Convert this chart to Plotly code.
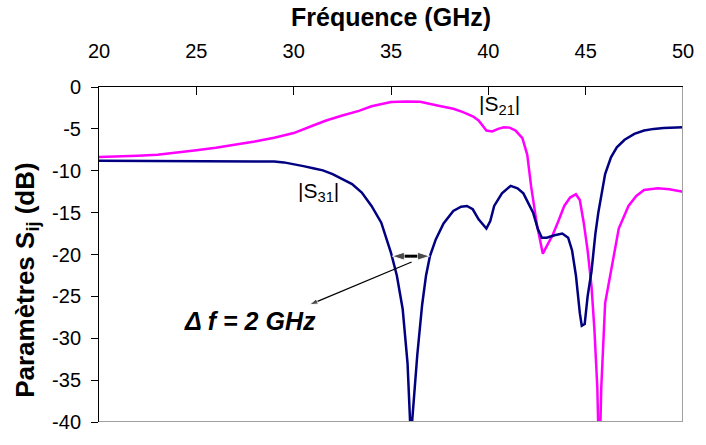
import plotly.graph_objects as go

# Frequency (GHz) and S-parameters (dB)
f_s31 = [20, 25, 29, 29.5, 30, 30.5, 31, 31.5, 32, 32.5, 33, 33.5, 34, 34.5, 35, 35.3, 35.6, 35.85,
         36.0, 36.05, 36.2, 36.35, 36.6, 36.8, 37.0, 37.3, 37.7, 38.2, 38.6, 38.9, 39.2, 39.5, 39.9,
         40.1, 40.3, 40.7, 41.15, 41.5, 41.8, 42.1, 42.3, 42.55, 42.75, 43.0, 43.4, 43.8, 44.1, 44.3,
         44.5, 44.7, 44.8, 44.95, 45.1, 45.3, 45.5, 45.65, 45.85, 46.0, 46.3, 46.6, 47.0, 47.5, 48,
         48.5, 49, 50]
s31 = [-8.8, -8.9, -8.9, -9.0, -9.2, -9.45, -9.7, -9.95, -10.4, -11.0, -11.6, -12.6, -14.2, -16.2,
       -19.8, -22.5, -26.5, -33, -41, -41, -36, -32, -26, -22.5, -20.2, -18.2, -16.3, -14.8, -14.3,
       -14.2, -14.6, -15.8, -16.9, -16.0, -14.2, -12.7, -11.8, -12.1, -12.7, -14.0, -15.0, -17.0,
       -18.0, -18.0, -17.7, -17.5, -18.0, -19.5, -22.5, -27, -28.5, -28.3, -25, -22, -17.5, -15.0,
       -12.3, -10.4, -8.4, -7.2, -6.3, -5.6, -5.2, -5.0, -4.9, -4.8]

f_s21 = [20, 21, 22, 23, 24, 25, 26, 27, 28, 29, 30, 31, 31.67, 32.5, 33.35, 34, 35.0, 35.8, 36.5,
         37.5, 38.2, 38.7, 39.2, 39.5, 39.9, 40.2, 40.5, 40.8, 41.1, 41.4, 41.75, 42.0, 42.2, 42.5,
         42.8, 43.0, 43.3, 43.6, 43.9, 44.2, 44.5, 44.7, 44.9, 45.1, 45.3, 45.45, 45.6, 45.65, 45.75,
         45.8, 45.9, 46.0, 46.3, 46.7, 47.2, 47.6, 48.0, 48.7, 49.3, 50]
s21 = [-8.35, -8.3, -8.2, -8.1, -7.85, -7.55, -7.25, -6.9, -6.5, -6.05, -5.5, -4.6, -4.0, -3.4,
       -2.85, -2.3, -1.8, -1.72, -1.77, -2.27, -2.6, -3.0, -3.5, -4.0, -5.2, -5.3, -5.0, -4.8, -4.85,
       -5.2, -6.1, -8.1, -11.9, -16.5, -19.9, -19.0, -17.7, -16.0, -14.2, -13.2, -12.8, -13.5, -16.2,
       -19.5, -23.8, -29, -36, -41, -41, -36, -30, -25.8, -22, -16.9, -14.2, -13.0, -12.3, -12.1,
       -12.2, -12.5]

# bandwidth marker (GHz, dB)
bw_f = [35.05, 37.0]
bw_level = -20.2

x_ticks = [20, 25, 30, 35, 40, 45, 50]
y_ticks = [0, -5, -10, -15, -20, -25, -30, -35, -40]

FONT = "Arial, Liberation Sans, sans-serif"

fig = go.Figure()
fig.add_trace(go.Scatter(x=f_s21, y=s21, mode="lines", name="|S21|",
                         line=dict(color="#FF00FF", width=2.5), hoverinfo="skip"))
fig.add_trace(go.Scatter(x=f_s31, y=s31, mode="lines", name="|S31|",
                         line=dict(color="#000080", width=2.5), hoverinfo="skip"))

# double arrow Δf (two halves, arrowheads at the outer ends)
mid = (bw_f[0] + bw_f[1]) / 2
for end in bw_f:
    fig.add_trace(go.Scatter(
        x=[mid, end], y=[bw_level, bw_level], mode="lines+markers",
        line=dict(color="black", width=3),
        marker=dict(symbol="arrow", size=[0, 13], angleref="previous", color="black"),
        hoverinfo="skip"))

# thin pointer from the double arrow toward the label
fig.add_trace(go.Scatter(
    x=[36.06, 30.81], y=[-20.9, -26.0], mode="lines+markers",
    line=dict(color="black", width=1.2),
    marker=dict(symbol="arrow", size=[0, 9], angleref="previous", color="black"),
    hoverinfo="skip"))

# plot-area gray border (bottom and right)
fig.add_shape(type="line", xref="x", yref="y", x0=20, x1=50, y0=-40, y1=-40,
              line=dict(color="#A0A0A0", width=2))
fig.add_shape(type="line", xref="x", yref="y", x0=50, x1=50, y0=-40, y1=0,
              line=dict(color="#A0A0A0", width=2))

ann = [
    dict(x=40.56, y=-2.2, text="|S<sub>21</sub>|", showarrow=False,
         font=dict(size=21, color="black", family=FONT)),
    dict(x=31.26, y=-12.5, text="|S<sub>31</sub>|", showarrow=False,
         font=dict(size=21, color="black", family=FONT)),
    dict(x=27.78, y=-27.9, text="<b><i>Δ f = 2 GHz</i></b>", showarrow=False,
         font=dict(size=25, color="black", family=FONT)),
    # y-axis title
    dict(x=-0.1246, y=0.425, xref="paper", yref="paper", xanchor="center", yanchor="middle",
         text="<b>Paramètres S<sub>ij</sub> (dB)</b>",
         textangle=-90, showarrow=False, font=dict(size=26, color="black", family=FONT)),
]

fig.update_layout(
    width=706, height=445,
    margin=dict(l=99, r=13, t=87, b=12),
    paper_bgcolor="white", plot_bgcolor="white",
    showlegend=False,
    font=dict(family=FONT, color="black", size=20),
    annotations=ann,
    xaxis=dict(
        range=[20, 50], side="top", tickmode="array", tickvals=x_ticks,
        ticktext=[str(v) for v in x_ticks],
        ticks="inside", ticklen=8, tickcolor="black", tickwidth=1,
        showline=True, linecolor="black", linewidth=1,
        showgrid=False, zeroline=False,
        tickfont=dict(size=20, color="black", family=FONT),
        ticklabelstandoff=20,
        title=dict(text="<b>Fréquence (GHz)</b>", font=dict(size=25, color="black", family=FONT),
                   standoff=6),
    ),
    yaxis=dict(
        range=[-40, 0], tickmode="array", tickvals=y_ticks,
        ticktext=[str(v) for v in y_ticks],
        ticks="outside", ticklen=7, tickcolor="black", tickwidth=1,
        showline=True, linecolor="black", linewidth=1,
        showgrid=False, zeroline=False,
        tickfont=dict(size=20, color="black", family=FONT),
        ticklabelstandoff=6,
    ),
)

fig.write_html("out.html", config={"displayModeBar": False},
               post_script="document.body.style.margin='0';document.body.style.overflow='hidden';")
